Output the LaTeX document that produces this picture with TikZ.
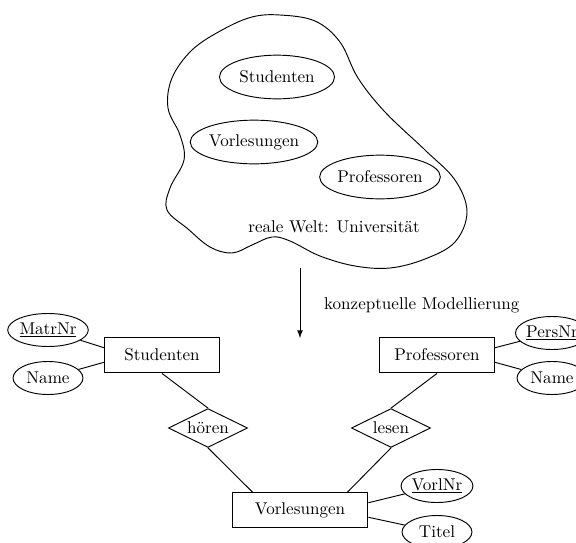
\documentclass[tikz,border=0pt]{standalone}
\usetikzlibrary{shapes.geometric}

\begin{document}
\begin{tikzpicture}[%
        x = 0.0206cm,
        y = -0.0206cm,
        > = latex,
        line width = 0.55pt,
        weltobj/.style = {%
            draw, ellipse, inner sep = 0pt,
            minimum width = 2.37cm, minimum height = 0.9cm
        },
        entity/.style = {%
            draw, rectangle, inner sep = 0pt,
            minimum width = 2.37cm, minimum height = 0.74cm
        },
        attrib/.style = {%
            draw, ellipse, inner sep = 0pt,
            minimum width = 1.44cm, minimum height = 0.68cm
        },
        relship/.style = {%
            draw, diamond, inner sep = 0pt, aspect = 2,
            minimum width = 1.63cm, minimum height = 0.8cm
        }
    ]

        \useasboundingbox (0, 0) rectangle (576, 543);

        % The real world: a blob with three objects in it.
        \draw plot[smooth cycle, tension = 0.6] coordinates {%
            (280, 15) (315, 21) (340, 42) (358, 78) (385, 112)
            (425, 150) (455, 180) (467, 212) (455, 242) (425, 259)
            (390, 268) (355, 266) (320, 256) (290, 241) (272, 237)
            (252, 245) (232, 253) (210, 247) (188, 229) (167, 210)
            (170, 188) (184, 160) (180, 135) (168, 108) (172, 78)
            (192, 50) (222, 30) (252, 17)
        };
        \node[weltobj] (weltstud) at (277, 77) {Studenten};
        \node[weltobj] (weltvorl) at (254, 142) {Vorlesungen};
        \node[weltobj] (weltprof) at (380, 177) {Professoren};
        \node (welt) at (334, 227) {reale Welt: Universit\"at};

        % Arrow down to the model.
        \coordinate (modtop) at (300, 268);
        \coordinate (modbot) at (300, 338);
        \draw[->] (modtop) to (modbot);
        \node[anchor = west] (modlabel) at (318, 305) {konzeptuelle Modellierung};

        % Entities and relationships.
        \node[entity] (stud) at (162, 355) {Studenten};
        \node[entity] (prof) at (437, 355) {Professoren};
        \node[entity, minimum width = 2.8cm, minimum height = 0.72cm]
            (vorl) at (300, 510) {Vorlesungen};
        \node[relship] (hoeren) at (208, 428) {h\"oren};
        \node[relship] (lesen) at (391, 428) {lesen};

        % Attributes.
        \node[attrib] (matrnr) at (48, 330) {\underline{MatrNr}};
        \node[attrib] (studname) at (48, 378) {Name};
        \node[attrib] (persnr) at (552, 333) {\underline{PersNr}};
        \node[attrib] (profname) at (552, 378) {Name};
        \node[attrib] (vorlnr) at (437, 486) {\underline{VorlNr}};
        \node[attrib] (titel) at (437, 532) {Titel};

        % Connections.
        \draw (stud.south) to (hoeren.north);
        \draw (hoeren.south) to ([xshift = 0.43cm]vorl.north west);
        \draw (prof.south) to (lesen.north);
        \draw (lesen.south) to ([xshift = -0.43cm]vorl.north east);

        \draw (matrnr) to ([yshift = 0.15cm]stud.west);
        \draw (studname) to ([yshift = -0.15cm]stud.west);
        \draw (persnr) to ([yshift = 0.15cm]prof.east);
        \draw (profname) to ([yshift = -0.15cm]prof.east);
        \draw (vorlnr) to ([yshift = 0.15cm]vorl.east);
        \draw (titel) to ([yshift = -0.15cm]vorl.east);
    \end{tikzpicture}
\end{document}
